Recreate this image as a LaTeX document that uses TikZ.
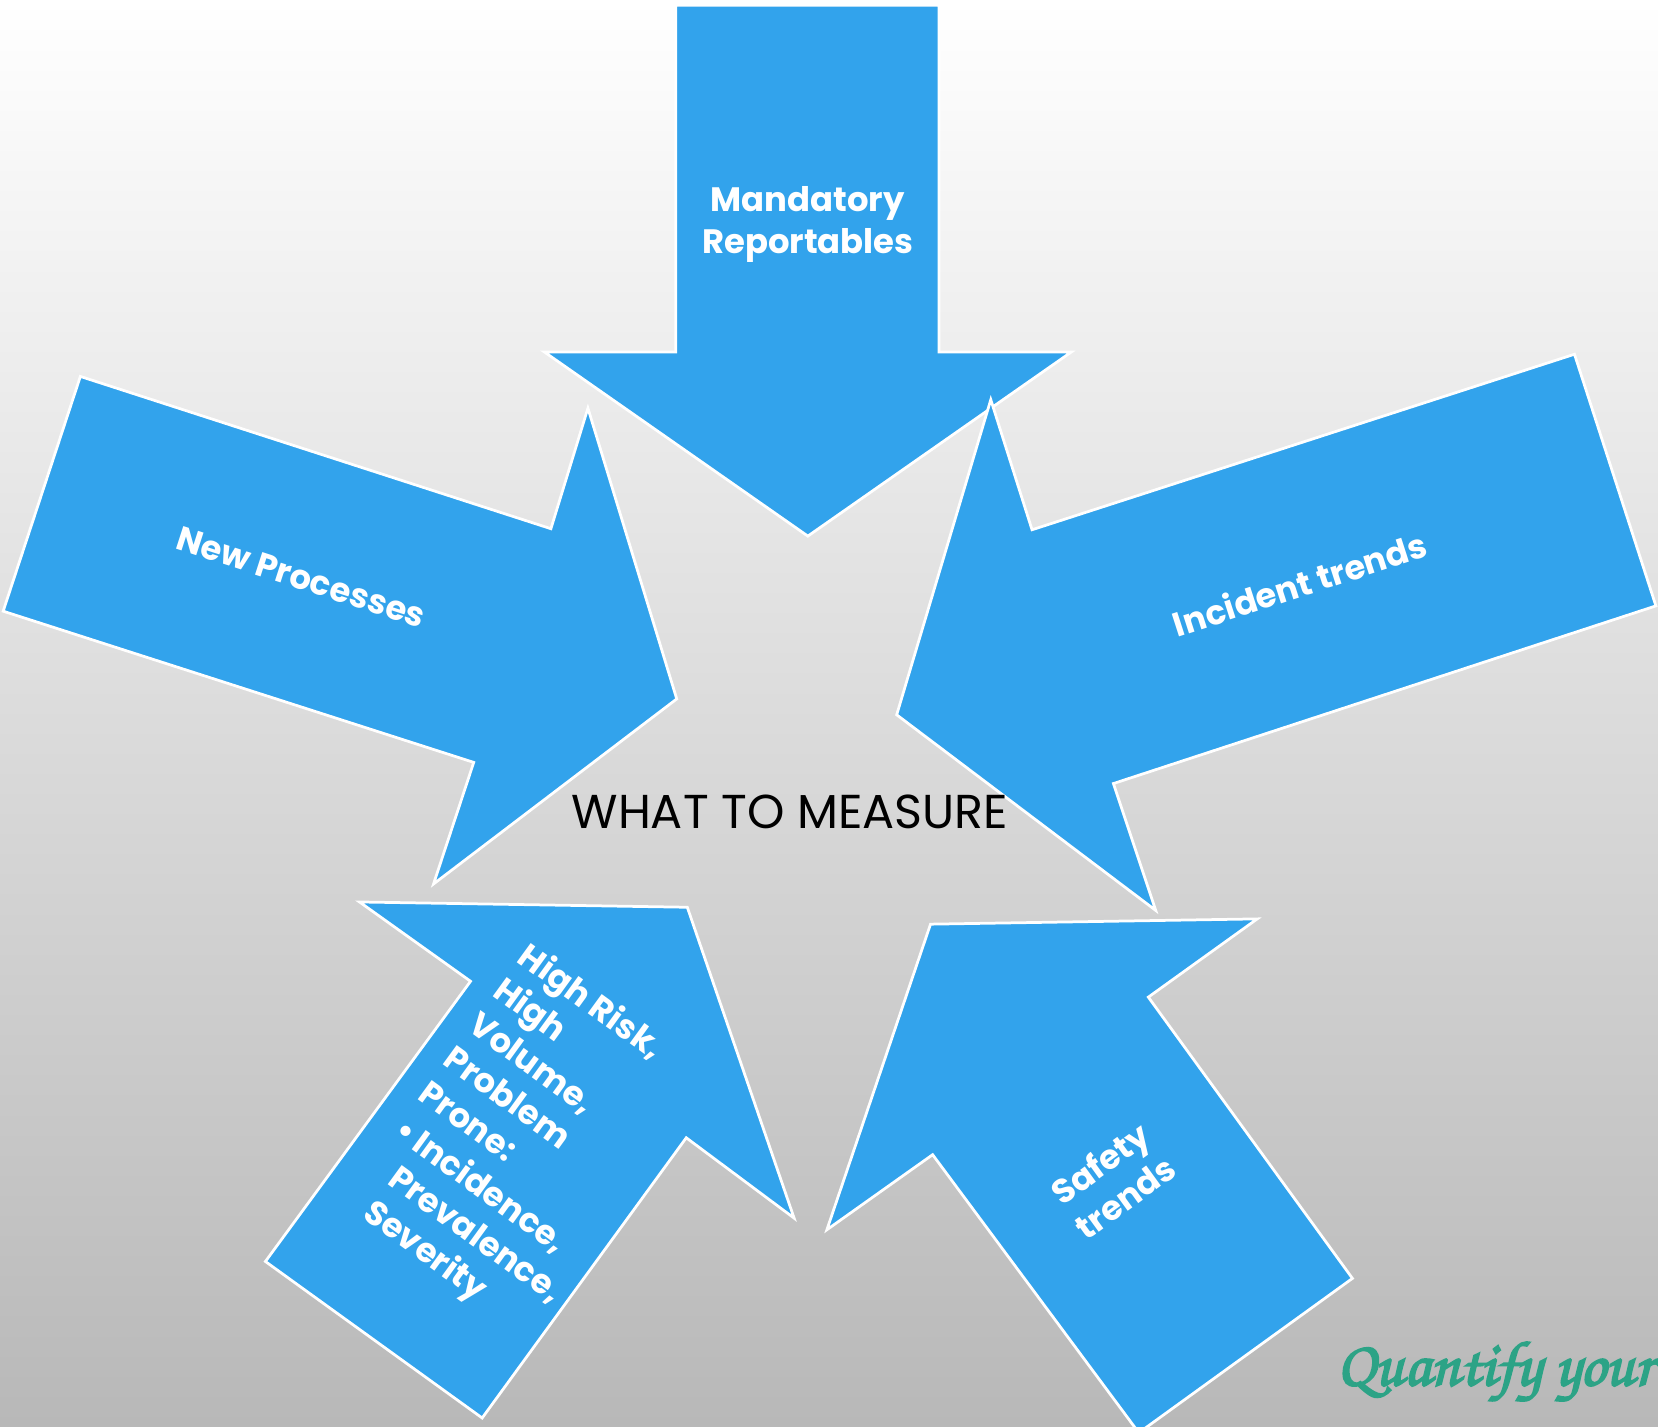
\documentclass[tikz,border=0pt]{standalone}
\usepackage{fontspec}
\setmainfont{Poppins}
\newfontfamily\quantfont{TeX Gyre Chorus}[FakeBold=3]
\definecolor{arrowblue}{RGB}{50,163,236}
\definecolor{bgbottom}{RGB}{184,184,184}
\definecolor{quantteal}{RGB}{44,163,134}
\tikzset{
  bigarrow/.style={fill=arrowblue, draw=white, line width=2.6bp, line join=miter},
  arrowlabel/.style={text=white, inner sep=0pt, align=center,
    font=\bfseries\fontsize{32bp}{40bp}\selectfont},
  titletext/.style={text=black, inner sep=0pt,
    font=\fontsize{45bp}{50bp}\selectfont},
}
\begin{document}
\begin{tikzpicture}[x=1bp, y=-1bp]
  % canvas and grey gradient backdrop
  \useasboundingbox (0,0) rectangle (1568,1349);
  \clip (0,0) rectangle (1568,1349);
  \shade[top color=white, bottom color=bgbottom] (0,0) rectangle (1568,1349);

  % five block arrows pointing to the centre
  \draw[bigarrow] (639,5) -- (888,5) -- (888,333) -- (1013,333) -- (764,507)
    -- (515,333) -- (639,333) -- cycle;
  \draw[bigarrow] (76,356) -- (521,500) -- (556,386) -- (640,661) -- (410,836)
    -- (448,721) -- (3,578) -- cycle;
  \draw[bigarrow] (1489,335) -- (1566,573) -- (1053,741) -- (1093,861) -- (848,676)
    -- (937,378) -- (976,501) -- cycle;
  \draw[bigarrow] (340,853) -- (650,858) -- (751,1152) -- (649,1076) -- (456,1341)
    -- (251,1193) -- (445,928) -- cycle;
  \draw[bigarrow] (880,874) -- (1189,869) -- (1086,943) -- (1279,1209) -- (1077,1355)
    -- (882,1092) -- (782,1163) -- cycle;

  % labels
  \node[arrowlabel] (mand) at (764,212) {Mandatory\\Reportables};
  \node[arrowlabel, rotate=-17.9] (newproc) at (285,546) {New Processes};
  \node[arrowlabel, rotate=17.9] (incid) at (1229,552) {Incident trends};
  \node[arrowlabel, rotate=36] (safety) at (1052,1116) {Safety\\trends};
  \node[arrowlabel, rotate=-36, anchor=north west, align=left] (highrisk) at (503,888)
    {High Risk,\\High\\Volume,\\Problem\\Prone:\\[2bp]
     \hspace{2bp}\textbullet\hspace{5bp}Incidence,\\
     \hspace{24bp}Prevalence,\\
     \hspace{24bp}Severity};

  \node[titletext] (title) at (747,768) {WHAT TO MEASURE};

  \node[anchor=base west, inner sep=0pt, text=quantteal,
    font=\quantfont\fontsize{60bp}{64bp}\selectfont] (quant) at (1264,1310) {Quantify your};
\end{tikzpicture}
\end{document}
